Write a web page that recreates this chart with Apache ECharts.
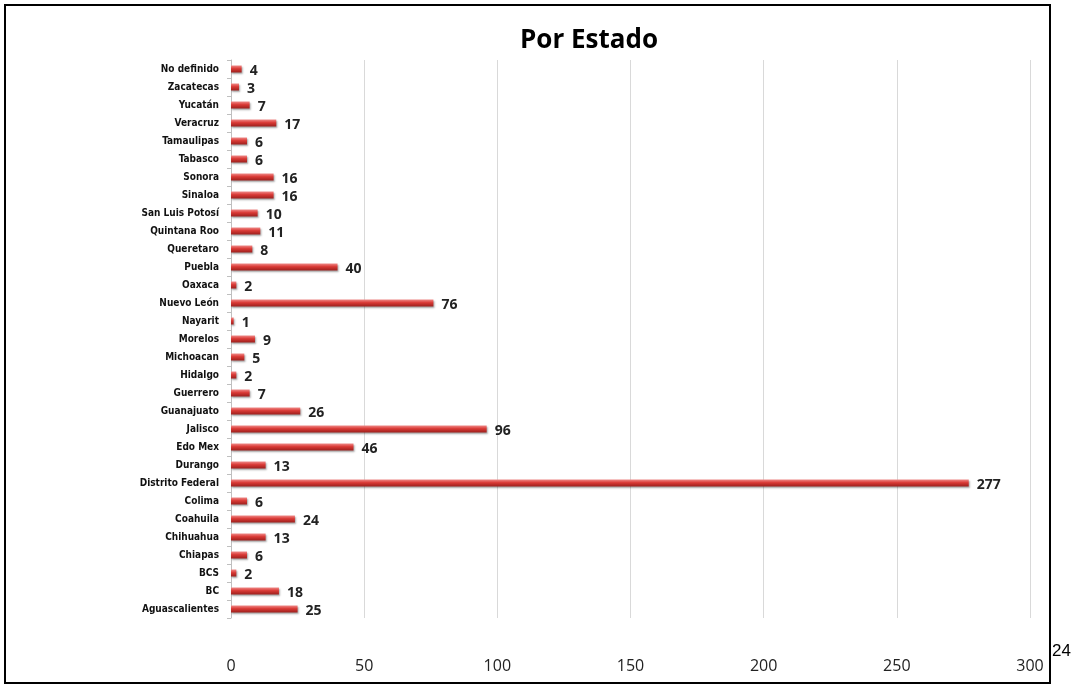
<!DOCTYPE html>
<html><head><meta charset="utf-8">
<script src="https://cdn.jsdelivr.net/npm/echarts@6/dist/echarts.min.js"></script>
<style>html,body{margin:0;padding:0;background:#fff}#c{width:1081px;height:689px}</style>
</head><body><div id="c"></div>
<script>
const categories = ["Aguascalientes","BC","BCS","Chiapas","Chihuahua","Coahuila","Colima","Distrito Federal","Durango","Edo Mex","Jalisco","Guanajuato","Guerrero","Hidalgo","Michoacan","Morelos","Nayarit","Nuevo León","Oaxaca","Puebla","Queretaro","Quintana Roo","San Luis Potosí","Sinaloa","Sonora","Tabasco","Tamaulipas","Veracruz","Yucatán","Zacatecas","No definido"];
const values = [25,18,2,6,13,24,6,277,13,46,96,26,7,2,5,9,1,76,2,40,8,11,10,16,16,6,6,17,7,3,4];
const titleText = "Por Estado";
const pageNumber = "24";

const chart = echarts.init(document.getElementById('c'));
chart.setOption({
  animation:false,
  title:{text:titleText,left:515,top:23,textStyle:{fontFamily:'Open Sans',fontWeight:'bold',fontSize:26,color:'#000'}},
  grid:{left:231,right:51,top:60,bottom:71},
  xAxis:{type:'value',min:0,max:300,interval:50,
    axisLine:{show:false},axisTick:{show:false},
    axisLabel:{margin:40,fontFamily:'Open Sans',fontSize:16,color:'#222'},
    splitLine:{lineStyle:{color:'#d9d9d9',width:1}}},
  yAxis:{type:'category',data:categories,
    axisLine:{show:true,lineStyle:{color:'#bfbfbf'}},
    axisTick:{show:true,length:4,lineStyle:{color:'#bfbfbf'}},
    axisLabel:{margin:12,fontFamily:"'DejaVu Sans Condensed', Roboto, sans-serif",fontWeight:'bold',fontSize:10,color:'#111'}},
  series:[{type:'bar',data:values,barWidth:7,
    itemStyle:{color:new echarts.graphic.LinearGradient(0,0,0,1,[
      {offset:0,color:'#f08a88'},{offset:0.45,color:'#d93a36'},{offset:1,color:'#9c1f1c'}]),
      shadowColor:'rgba(0,0,0,0.35)',shadowBlur:2,shadowOffsetY:1.5,shadowOffsetX:1},
    label:{show:true,position:'right',distance:8,offset:[0,2],fontFamily:'Open Sans',fontWeight:'bold',fontSize:14,color:'#222'}
  }],
  graphic:[
    {type:'rect',shape:{x:5,y:5,width:1045,height:678},style:{fill:'none',stroke:'#000',lineWidth:2},silent:true},
    {type:'text',left:1052,top:643,style:{text:pageNumber,font:'17px Liberation Sans',fill:'#000'}}
  ]
});
</script></body></html>
